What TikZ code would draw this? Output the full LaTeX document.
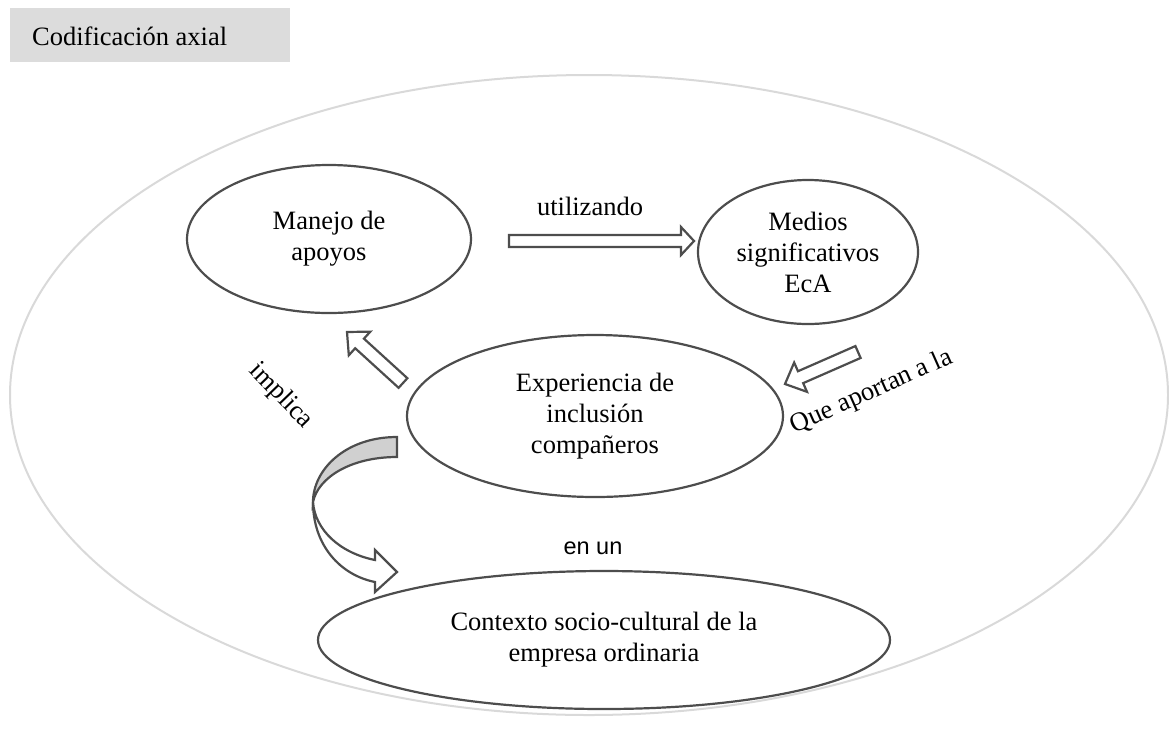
\documentclass[tikz,border=0pt]{standalone}
\usepackage{fontspec}
\setmainfont{Liberation Serif}
\newfontfamily\arialf{Liberation Sans}
\usetikzlibrary{shapes.geometric,calc}
\definecolor{edgegray}{HTML}{4D4D4D}
\definecolor{outergray}{HTML}{D9D9D9}
\definecolor{boxgray}{HTML}{DCDCDC}
\definecolor{bandgray}{HTML}{D0D0D0}
\tikzset{
  oval/.style={ellipse, draw=edgegray, line width=2.2pt, align=center, inner sep=0pt},
  blockar/.style={draw=edgegray, line width=2.2pt, fill=white, line join=miter},
  lbl/.style={inner sep=0pt}
}
\newcommand\blockarrow[6]{%
  \coordinate (#1h) at ($(#3)!#6!(#2)$);
  \draw[blockar] ($(#2)!#4!90:(#3)$) -- ($(#1h)!#4!90:(#3)$) -- ($(#1h)!#5!90:(#3)$) -- (#3)
    -- ($(#1h)!#5!-90:(#3)$) -- ($(#1h)!#4!-90:(#3)$) -- ($(#2)!#4!-90:(#3)$) -- cycle;
}
\begin{document}
\begin{tikzpicture}[x=1pt,y=-1pt,font=\fontsize{26.5}{31}\selectfont]
\useasboundingbox (0,0) rectangle (1169,732);
% title box
\node[fill=boxgray, minimum width=280pt, minimum height=54pt, anchor=north west, inner sep=0pt] (titlebox) at (10,8) {};
\node[lbl, anchor=base west] (title) at (32,45) {Codificación axial};
% outer ellipse
\node[ellipse, draw=outergray, line width=2pt, minimum width=1158pt, minimum height=640pt, inner sep=0pt] (outer) at (589,395) {};
% main ellipses
\node[oval, minimum width=284pt, minimum height=148pt] (manejo) at (329,239) {Manejo de\\apoyos};
\node[oval, minimum width=220pt, minimum height=144pt] (medios) at (808,252) {Medios\\significativos\\EcA};
\node[oval, minimum width=376pt, minimum height=162pt] (exper) at (595,416) {Experiencia de\\inclusión\\compañeros};
\node[oval, minimum width=572pt, minimum height=138pt] (contexto) at (604,640) {Contexto socio-cultural de la\\empresa ordinaria};
% straight block arrows
\coordinate (utA) at (509,241);
\coordinate (utB) at (694,241);
\blockarrow{ut}{utA}{utB}{6pt}{14pt}{13pt}
\coordinate (imA) at (403,383);
\coordinate (imB) at (347,332);
\blockarrow{im}{imA}{imB}{6.5pt}{16pt}{17pt}
\coordinate (qaA) at (858,352);
\coordinate (qaB) at (785,384);
\blockarrow{qa}{qaA}{qaB}{6.5pt}{16pt}{17pt}
% curved arrow
\coordinate (cvL) at (313,502);
\draw[draw=edgegray, line width=2.2pt, fill=bandgray, line join=miter]
  (397,437) .. controls (345,437) and (313,470) .. (cvL)
  .. controls (318,478) and (350,457) .. (397,457) -- cycle;
\draw[blockar]
  (cvL) .. controls (313,545) and (340,575) .. (375,582) -- (375,592) -- (397,572) -- (375,550) -- (375,560)
  .. controls (340,553) and (315,530) .. (cvL) -- cycle;
% labels
\node[lbl] (lutil) at (590,206) {utilizando};
\node[lbl, rotate=-46] (limpl) at (281,396) {implica};
\node[lbl, rotate=24] (lque) at (872,392) {Que aportan a la};
\node[lbl, font=\arialf\fontsize{23.5}{27}\selectfont] (lenun) at (593,548) {en un};
\end{tikzpicture}
\end{document}
